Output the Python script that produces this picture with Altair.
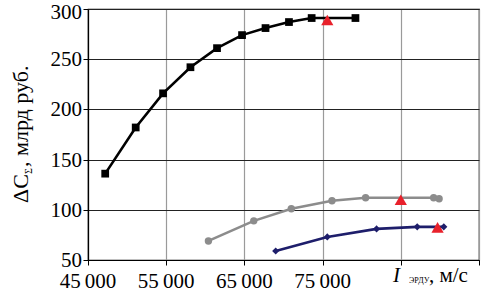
import altair as alt
import pandas as pd

# --- data ---
black_x = [47200, 51100, 54600, 58100, 61500, 64700, 67700, 70700, 73600, 79200]
black_y = [136, 182, 216, 242, 261, 274, 281, 287, 291, 291]

gray_x = [60400, 66200, 71000, 76200, 80500, 89200, 89900]
gray_y = [69, 89, 101, 109, 112, 112, 111]

navy_x = [69000, 75600, 81900, 87100, 90500]
navy_y = [59, 73, 81, 83, 83]

tri_x = [75600, 85000, 89700]
tri_y = [289, 110, 82.5]

x_ticks = [45000, 55000, 65000, 75000, 85000, 95000]
x_tick_labels = ["45\u2009000", "55\u2009000", "65\u2009000", "75\u2009000"]
y_ticks = [50, 100, 150, 200, 250, 300]
y_tick_labels = ["50", "100", "150", "200", "250", "300"]

series_names = ["black", "gray", "navy"]
series_colors = ["#000000", "#8c8c8c", "#1e1e6b"]
series_shapes = ["square", "circle", "diamond"]
series_sizes = [60, 50, 95]

rows = []
for name, xs, ys in zip(series_names, [black_x, gray_x, navy_x], [black_y, gray_y, navy_y]):
    for x, y in zip(xs, ys):
        rows.append({"series": name, "x": x, "y": y})
df = pd.DataFrame(rows)
tri_df = pd.DataFrame({"x": tri_x, "y": tri_y})
xlab_df = pd.DataFrame({"v": x_ticks[:len(x_tick_labels)], "t": x_tick_labels})
ylab_df = pd.DataFrame({"v": y_ticks, "t": y_tick_labels})

FONT = "Liberation Serif"

x_scale = alt.Scale(domain=[45000, 95000], nice=False, zero=False)
y_scale = alt.Scale(domain=[50, 300], nice=False, zero=False)
color_scale = alt.Scale(domain=series_names, range=series_colors)
shape_scale = alt.Scale(domain=series_names, range=series_shapes)
size_scale = alt.Scale(domain=series_names, range=series_sizes)

x_axis = alt.Axis(
    values=x_ticks, labels=False, title=None,
    grid=True, gridColor="#9a9a9a", gridWidth=1.2, gridOpacity=1,
    domainColor="#000000", domainWidth=1.2,
    tickColor="#000000", tickSize=5,
)
y_axis = alt.Axis(
    values=y_ticks, labels=False, title=None,
    grid=True, gridColor="#222222", gridWidth=1.2, gridOpacity=1,
    domainColor="#000000", domainWidth=1.2,
    tickColor="#000000", tickSize=5,
)

base = alt.Chart(df)

lines = base.mark_line(strokeWidth=2.6).encode(
    x=alt.X("x:Q", scale=x_scale, axis=x_axis),
    y=alt.Y("y:Q", scale=y_scale, axis=y_axis),
    color=alt.Color("series:N", scale=color_scale, legend=None),
    order="x:Q",
)

points = base.mark_point(filled=True, opacity=1).encode(
    x="x:Q",
    y="y:Q",
    color=alt.Color("series:N", scale=color_scale, legend=None),
    shape=alt.Shape("series:N", scale=shape_scale, legend=None),
    size=alt.Size("series:N", scale=size_scale, legend=None),
)

tris = alt.Chart(tri_df).mark_point(
    shape="triangle-up", filled=True, opacity=1, color="#e8212b", size=150
).encode(x="x:Q", y="y:Q")

# tick labels as text through the same scales
xlabels = alt.Chart(xlab_df).mark_text(
    font=FONT, fontSize=21, color="#000000", align="center", baseline="alphabetic"
).encode(x=alt.X("v:Q", scale=x_scale), y=alt.value(279), text="t:N")

ylabels = alt.Chart(ylab_df).transform_filter("datum.v < 300").mark_text(
    font=FONT, fontSize=21, color="#000000", align="right", baseline="alphabetic", dy=7
).encode(y=alt.Y("v:Q", scale=y_scale), x=alt.value(-6), text="t:N")

ylabel_top = alt.Chart(ylab_df).transform_filter("datum.v == 300").mark_text(
    font=FONT, fontSize=21, color="#000000", align="right", baseline="alphabetic", dy=10
).encode(y=alt.Y("v:Q", scale=y_scale), x=alt.value(-6), text="t:N")


def label(text, px, py, size, angle=0, italic=False, baseline="alphabetic"):
    d = pd.DataFrame({"t": [text]})
    kw = dict(font=FONT, fontSize=size, color="#000000", align="left", baseline=baseline)
    if angle:
        kw["angle"] = angle
    if italic:
        kw["fontStyle"] = "italic"
    return alt.Chart(d).mark_text(**kw).encode(
        text="t:N", x=alt.value(px), y=alt.value(py)
    )

# x-axis title pieces (plot-relative pixel positions)
xt1 = label("I", 305, 273, 21, italic=True)
xt2 = label("ЭРДУ", 321, 274, 8)
xt3 = label(", м/с", 341, 273, 21)

# y-axis title pieces (rotated)
yt1 = label("ΔC", -60, 194, 22, angle=270)
yt2 = label("Σ", -56, 165, 10, angle=270)
yt3 = label(", млрд руб.", -60, 158, 22, angle=270)

chart = alt.layer(
    lines, points, tris, xlabels, ylabels, ylabel_top, xt1, xt2, xt3, yt1, yt2, yt3
).properties(
    width=391,
    height=251,
    autosize=alt.AutoSizeParams(type="none"),
    padding={"left": 88, "top": 9, "right": 14, "bottom": 35},
    background="#ffffff",
).configure_view(stroke="#000000", strokeWidth=1.2)

chart.save("out.html", embed_options={"renderer": "svg", "actions": False})
